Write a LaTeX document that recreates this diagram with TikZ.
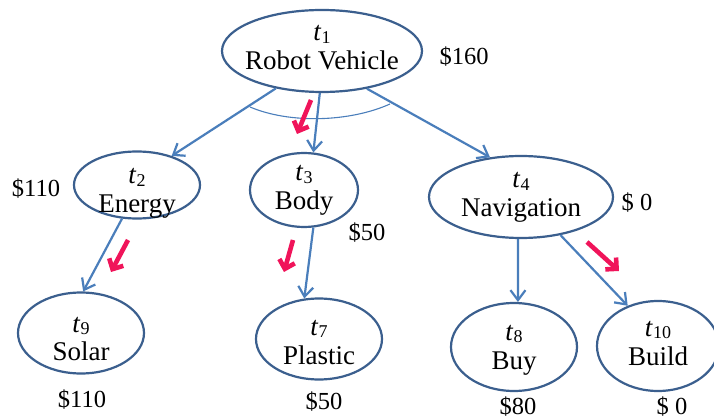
\documentclass[tikz,border=0pt]{standalone}
\usepackage{fontspec}
\setmainfont{Liberation Serif}
\usetikzlibrary{shapes.geometric,arrows.meta}

\definecolor{rim}{HTML}{3B5F8E}
\definecolor{linkblue}{HTML}{4A7EBB}
\definecolor{hot}{HTML}{F0145A}

% italic task symbol with a subscript index
\newcommand{\tk}[1]{\textit{t}\raisebox{-2.5pt}{\fontsize{18}{18}\selectfont #1}}
% two-line task caption, first baseline raised #1 above the ellipse centre
\newcommand{\tasktext}[3]{\smash{\makebox[0pt]{\raisebox{#1}{%
  \fontsize{27}{29}\selectfont
  \begin{tabular}[t]{@{}c@{}}\tk{#2}\\#3\end{tabular}}}}}

\begin{document}
\begin{tikzpicture}[x=1pt,y=-1pt,
  task/.style={ellipse, draw=rim, line width=2.2pt, inner sep=0pt, fill=white},
  cost/.style={font=\fontsize{24.5}{24.5}\selectfont, inner sep=0pt},
  link/.style={draw=linkblue, line width=2.2pt,
    -{Straight Barb[length=10pt,width=15pt,line width=2.2pt]}},
  hint/.style={draw=hot, line width=4.6pt,
    -{Straight Barb[length=8pt,width=16pt,line width=4.6pt]}}]
\useasboundingbox (0,0) rectangle (714,419);

% tasks
\node[task, minimum width=200pt, minimum height=82pt] (t1) at (322,51) {\tasktext{10pt}{1}{Robot Vehicle}};
\node[task, minimum width=126pt, minimum height=67pt] (t2) at (137,185) {\tasktext{1pt}{2}{Energy}};
\node[task, minimum width=108pt, minimum height=74pt] (t3) at (304,190) {\tasktext{9pt}{3}{Body}};
\node[task, minimum width=184pt, minimum height=82pt] (t4) at (521,197) {\tasktext{9pt}{4}{Navigation}};
\node[task, minimum width=126pt, minimum height=81pt] (t9) at (81,333) {\tasktext{1pt}{9}{Solar}};
\node[task, minimum width=126pt, minimum height=81pt] (t7) at (319,339) {\tasktext{4pt}{7}{Plastic}};
\node[task, minimum width=126pt, minimum height=88pt] (t8) at (514,347) {\tasktext{7pt}{8}{Buy}};
\node[task, minimum width=122pt, minimum height=90pt] (t10) at (658,346) {\tasktext{10pt}{10}{Build}};

% costs
\node[cost] (c1) at (464,57) {\$160};
\node[cost] (c2) at (36,189) {\$110};
\node[cost] (c3) at (367,233) {\$50};
\node[cost] (c4) at (637,203) {\$ 0};
\node[cost] (c9) at (82,400) {\$110};
\node[cost] (c7) at (324,402) {\$50};
\node[cost] (c8) at (518,407) {\$80};
\node[cost] (c10) at (672,407) {\$ 0};

% decomposition links
\draw[link] (t1.219) -- (t2.40);
\draw[link] (t1.267) -- (t3.76);
\draw[link] (t1.320) -- (t4.128);
\draw[link] (t2.246) -- (t9.87);
\draw[link] (t3.284) -- (t7.110);
\draw[link] (t4.266) -- (t8.85);
\draw[link] (t4.316) -- (t10.127);

% AND arc across the links of t1
\coordinate (andL) at (250,107);
\coordinate (andR) at (390,104);
\draw[linkblue, line width=1.1pt] (andL) .. controls (290,124) and (350,122) .. (andR);

% chosen refinement marks
\coordinate (h1a) at (311,100); \coordinate (h1b) at (297,134);
\coordinate (h2a) at (128,240); \coordinate (h2b) at (111,272);
\coordinate (h3a) at (293,240); \coordinate (h3b) at (284,272);
\coordinate (h4a) at (587,242); \coordinate (h4b) at (619,271);
\draw[hint] (h1a) -- (h1b);
\draw[hint] (h2a) -- (h2b);
\draw[hint] (h3a) -- (h3b);
\draw[hint] (h4a) -- (h4b);
\end{tikzpicture}
\end{document}
